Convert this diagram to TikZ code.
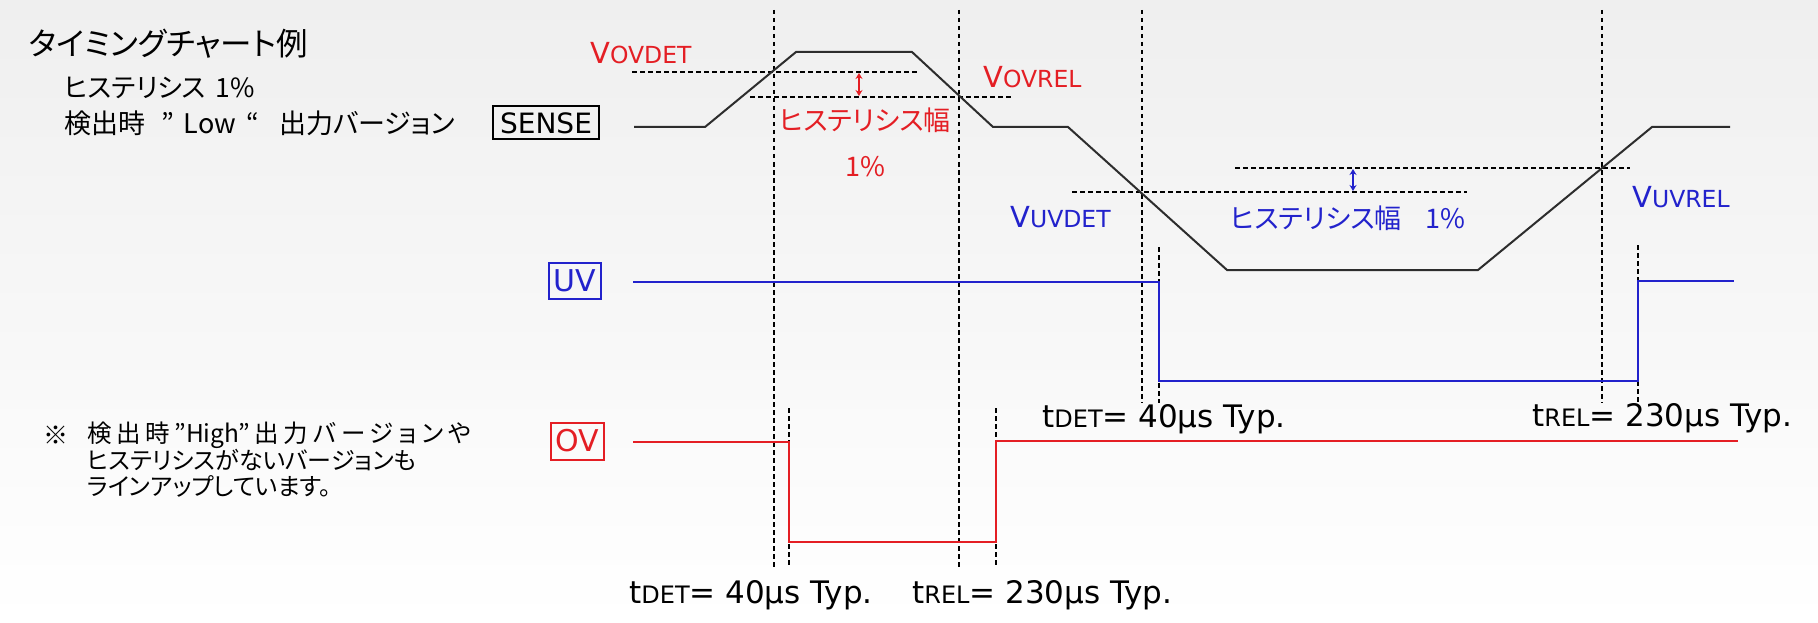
\documentclass[tikz,border=0pt]{standalone}
\usepackage{fontspec}
\setmainfont{DejaVu Sans}
\newfontfamily\jp[RawFeature=+palt]{Noto Sans CJK JP}
\newfontfamily\jpls[RawFeature=+palt,LetterSpace=20]{Noto Sans CJK JP}
\usetikzlibrary{arrows.meta}
\definecolor{ored}{RGB}{228,30,36}
\definecolor{ublue}{RGB}{34,34,204}
\definecolor{sline}{RGB}{45,45,45}
\definecolor{bgtop}{RGB}{239,239,239}
\newcommand\myfs[1]{\fontsize{#1}{#1}\selectfont}
\newcommand\vlab[2]{{\myfs{29}V}{\myfs{23.5}#2}}
\newcommand\tlab[2]{{\myfs{31}t}{\myfs{24}#1}{\myfs{31}= #2µs Typ.}}
\begin{document}
\begin{tikzpicture}[x=1pt,y=-1pt,
  sig/.style={line width=2pt, line join=miter},
  dsh/.style={line width=1.8pt, dash pattern=on 4.5pt off 3.5pt, black},
  lbl/.style={inner sep=0pt, anchor=west},
  sigbox/.style={draw, line width=2pt, inner sep=0pt, anchor=east, font={\myfs{30}}},
  hyst/.style={{Stealth[length=6pt,width=7pt]}-{Stealth[length=6pt,width=7pt]}, line width=1.4pt},
]
\shade[top color=bgtop, bottom color=white] (0,0) rectangle (1818,623);
\useasboundingbox (0,0) rectangle (1818,623);

% titles
\node[lbl] (title) at (29,44) {\jp\myfs{31.5}タイミングチャート例};
\node[lbl] (hys) at (64,88) {\jp\myfs{26.5}ヒステリシス\hspace{10pt}1\%};
\node[lbl] (ver) at (64,123) {\jp\myfs{27}検出時\hspace{16pt}”\hspace{10pt}Low\hspace{10pt}“\hspace{20pt}出力バージョン};

% signal boxes
\node[sigbox, minimum width=106pt, minimum height=33pt, font={\myfs{28}}] (sensebox) at (600,123) {SENSE};
\node[sigbox, draw=ublue, text=ublue, minimum width=52pt, minimum height=36pt] (uvbox) at (602,281) {UV};
\node[sigbox, draw=ored, text=ored, minimum width=53pt, minimum height=37pt] (ovbox) at (605,441) {OV};

% note
\node[lbl] (kome) at (43,435) {\jp\myfs{25}※};
\node[lbl] (note1) at (87,435) {\jp\myfs{24.5}{\jpls 検出時}\hspace{4pt}”High”\hspace{4pt}{\jpls 出力バージョンや}};
\node[lbl] (note2) at (87,460) {\jp\myfs{24}ヒステリシスがないバージョンも};
\node[lbl] (note3) at (87,486) {\jp\myfs{24}ラインアップしています。};

% vertical dashed lines
\draw[dsh] (774,10) -- (774,567);
\draw[dsh] (789,408) -- (789,567);
\draw[dsh] (959,10) -- (959,567);
\draw[dsh] (996,408) -- (996,567);
\draw[dsh] (1142,10) -- (1142,403);
\draw[dsh] (1159,247) -- (1159,403);
\draw[dsh] (1602,10) -- (1602,403);
\draw[dsh] (1638,245) -- (1638,403);

% horizontal threshold lines
\draw[dsh] (632,72) -- (920,72);
\draw[dsh] (750,97) -- (1013,97);
\draw[dsh] (1235,168) -- (1630,168);
\draw[dsh] (1072,192) -- (1467,192);

% SENSE waveform
\draw[sig, sline] (634,127) -- (705,127) -- (796,52) -- (912,52) -- (993,127) -- (1068,127)
  -- (1227,270) -- (1478,270) -- (1652,127) -- (1730,127);
% UV waveform
\draw[sig, ublue] (633,282) -- (1159,282) -- (1159,381) -- (1638,381) -- (1638,281) -- (1734,281);
% OV waveform
\draw[sig, ored] (633,442) -- (789,442) -- (789,542) -- (996,542) -- (996,441) -- (1738,441);

% hysteresis arrows
\draw[hyst, ored] (859,73) -- (859,96);
\draw[hyst, ublue] (1353,169) -- (1353,191);

% threshold labels
\node[lbl, text=ored] (vovdet) at (590,53) {\vlab{V}{OVDET}};
\node[lbl, text=ored] (vovrel) at (983,77) {\vlab{V}{OVREL}};
\node[lbl, text=ublue] (vuvdet) at (1010,217) {\vlab{V}{UVDET}};
\node[lbl, text=ublue] (vuvrel) at (1632,197) {\vlab{V}{UVREL}};

\node[inner sep=0pt, text=ored] (hysr) at (865,120) {\jp\myfs{27}ヒステリシス幅};
\node[inner sep=0pt, text=ored] (hysr2) at (865,167) {\jp\myfs{27}1\%};
\node[lbl, text=ublue] (hysb) at (1230,218) {\jp\myfs{27}ヒステリシス幅\hspace{24pt}1\%};

% timing labels
\node[lbl] (tdet1) at (629,595) {\tlab{DET}{40}};
\node[lbl] (trel1) at (912,595) {\tlab{REL}{230}};
\node[lbl] (tdet2) at (1042,419) {\tlab{DET}{40}};
\node[lbl] (trel2) at (1532,418) {\tlab{REL}{230}};
\end{tikzpicture}
\end{document}
